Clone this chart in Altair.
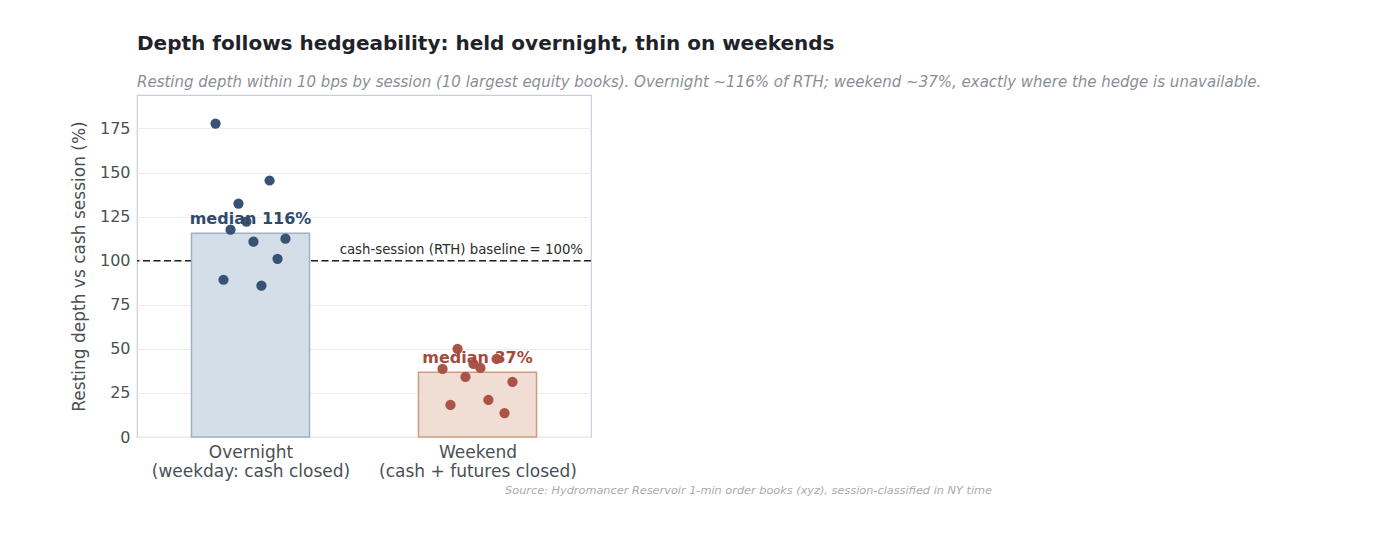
import json
import altair as alt
import pandas as pd

# ---- data ----
sessions = ["Overnight", "Weekend"]
session_label_lines = [["Overnight", "(weekday: cash closed)"], ["Weekend", "(cash + futures closed)"]]
overnight_values = [177.8, 132.4, 145.5, 117.6, 122.2, 110.8, 112.5, 101.1, 89.2, 85.8]
weekend_values = [50.0, 38.6, 41.5, 39.2, 44.3, 34.1, 31.3, 18.2, 21.0, 13.6]
overnight_jitter = [-0.154, -0.053, 0.084, -0.088, -0.018, 0.013, 0.154, 0.119, -0.119, 0.048]
weekend_jitter = [-0.088, -0.154, -0.018, 0.013, 0.084, -0.053, 0.154, -0.119, 0.048, 0.119]
medians = [115.6, 36.8]
baseline_value = 100
y_ticks = [0, 25, 50, 75, 100, 125, 150, 175]

title = "Depth follows hedgeability: held overnight, thin on weekends"
subtitle = ("Resting depth within 10 bps by session (10 largest equity books). "
            "Overnight ~116% of RTH; weekend ~37%, exactly where the hedge is unavailable.")
source = "Source: Hydromancer Reservoir 1-min order books (xyz), session-classified in NY time"
baseline_label = "cash-session (RTH) baseline = 100%"

# ---- styles ----
FONT = "DejaVu Sans"
point_colors = ["#2e4a6d", "#a54b3e"]
bar_fills = ["#d4dee9", "#f0ddd4"]
bar_strokes = ["#9db1c7", "#d39a80"]
BAR_HALF = 0.26

# ---- tables ----
rows = []
for i, (vals, jit) in enumerate([(overnight_values, overnight_jitter), (weekend_values, weekend_jitter)]):
    for v, j in zip(vals, jit):
        rows.append({"session": sessions[i], "pos": i + j, "value": v})
points_df = pd.DataFrame(rows)

bars_df = pd.DataFrame({
    "session": sessions,
    "idx": [0, 1],
    "x0": [i - BAR_HALF for i in range(2)],
    "x1": [i + BAR_HALF for i in range(2)],
    "median": medians,
    "zero": [0, 0],
    "label": [f"median {round(m)}%" for m in medians],
})
base_df = pd.DataFrame({"value": [baseline_value], "label": [baseline_label]})
src_df = pd.DataFrame({"text": [source]})

label_expr = " : ".join(
    [f"datum.value == {i} ? {json.dumps(l)}" for i, l in enumerate(session_label_lines[:-1])]
    + [json.dumps(session_label_lines[-1])]
)

xscale = alt.Scale(domain=[-0.5, 1.5], nice=False, zero=False)
yscale = alt.Scale(domain=[0, 194], nice=False)
xaxis = alt.Axis(values=[0, 1], labelExpr=label_expr, title=None, grid=False, ticks=False,
                 domain=False, labelFontSize=17, labelColor="#4a4f55", labelFont=FONT,
                 labelLineHeight=19, labelPadding=7, labelLimit=0)
yaxis = alt.Axis(values=y_ticks, title="Resting depth vs cash session (%)", grid=True,
                 gridColor="#ececec", gridWidth=1, ticks=False, domain=False,
                 labelFontSize=16, labelColor="#4a4f55", labelFont=FONT, labelPadding=7,
                 titleFontSize=17, titleColor="#4a4f55", titleFont=FONT, titleFontWeight="normal",
                 titlePadding=11)

color_stroke = alt.Stroke("session:N", scale=alt.Scale(domain=sessions, range=bar_strokes), legend=None)
color_pt = alt.Color("session:N", scale=alt.Scale(domain=sessions, range=point_colors), legend=None)

rule = alt.Chart(base_df).mark_rule(color="#222222", strokeDash=[7, 3.5], strokeWidth=1.5).encode(
    y=alt.Y("value:Q", scale=yscale, axis=yaxis)
)
rule_text = alt.Chart(base_df).mark_text(align="right", baseline="bottom", dy=-4, fontSize=13.3,
                                         font=FONT, color="#2b2b2b").encode(
    y=alt.Y("value:Q", scale=yscale, axis=yaxis),
    x=alt.value(446),
    text="label:N",
)

bars = alt.Chart(bars_df).mark_rect(strokeWidth=1.5).encode(
    x=alt.X("x0:Q", scale=xscale, axis=xaxis),
    x2="x1:Q",
    y=alt.Y("zero:Q", scale=yscale, axis=yaxis),
    y2="median:Q",
    fill=alt.Fill("session:N", scale=alt.Scale(domain=sessions, range=bar_fills), legend=None),
    stroke=color_stroke,
)

med_text = alt.Chart(bars_df).mark_text(baseline="bottom", dy=-6, fontSize=16, fontWeight="bold",
                                        font=FONT).encode(
    x=alt.X("idx:Q", scale=xscale, axis=xaxis),
    y=alt.Y("median:Q", scale=yscale, axis=yaxis),
    text="label:N",
    color=color_pt,
)

pts = alt.Chart(points_df).mark_circle(size=105, opacity=0.95).encode(
    x=alt.X("pos:Q", scale=xscale, axis=xaxis),
    y=alt.Y("value:Q", scale=yscale, axis=yaxis),
    color=color_pt,
)

src = alt.Chart(src_df).mark_text(align="right", baseline="middle", fontSize=11.3, fontStyle="italic",
                                  font=FONT, color="#a8abb0").encode(
    x=alt.value(855),
    y=alt.value(396),
    text="text:N",
)

chart = alt.layer(rule, bars, rule_text, med_text, pts, src).resolve_scale(
    color="independent", fill="independent", stroke="independent"
).properties(
    width=454,
    height=342,
    title=alt.TitleParams(
        text=title, subtitle=subtitle, anchor="start", frame="group", font=FONT, fontSize=20,
        fontWeight="bold", color="#1f2329", subtitleFont=FONT, subtitleFontSize=15,
        subtitleFontStyle="italic", subtitleColor="#8a8f96", subtitlePadding=21, offset=5,
    ),
    padding={"left": 70, "top": 34, "right": 5, "bottom": 5},
).configure_view(stroke="#c9ced6", strokeWidth=1.2)

chart.save("out.html", embed_options={"renderer": "svg", "actions": False})
